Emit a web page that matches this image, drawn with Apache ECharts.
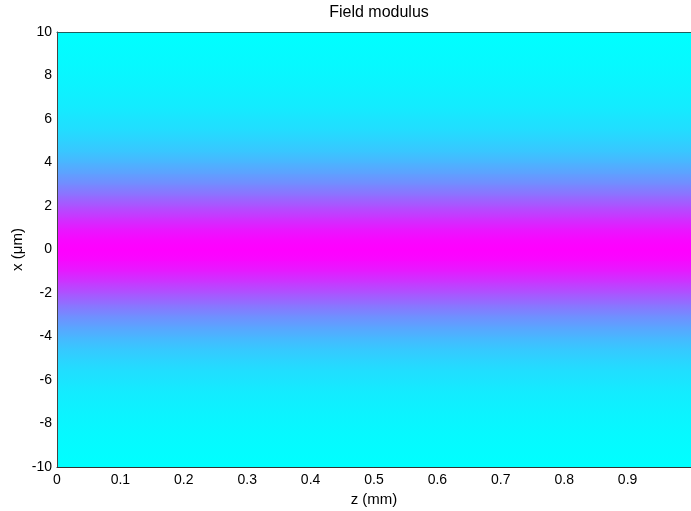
<!DOCTYPE html>
<html>
<head>
<meta charset="utf-8">
<script src="https://cdn.jsdelivr.net/npm/echarts@6/dist/echarts.min.js"></script>
<style>
    html, body { margin: 0; padding: 0; background: #fff; }
    #chart { width: 691px; height: 511px; }
</style>
</head>
<body>
<div id="chart"></div>
<script>
// transverse position x (um), sampled every 0.5 um
const xPos = [-10, -9.5, -9, -8.5, -8, -7.5, -7, -6.5, -6, -5.5, -5, -4.5, -4, -3.5, -3, -2.5, -2, -1.5, -1, -0.5,
    0, 0.5, 1, 1.5, 2, 2.5, 3, 3.5, 4, 4.5, 5, 5.5, 6, 6.5, 7, 7.5, 8, 8.5, 9, 9.5, 10];
// normalised field modulus (same for every z)
const fieldMod = [0.000, 0.007, 0.015, 0.025, 0.035, 0.048, 0.062, 0.080, 0.105, 0.135, 0.175, 0.225, 0.290, 0.370,
    0.455, 0.560, 0.675, 0.790, 0.895, 0.970, 1.000, 0.970, 0.895, 0.790, 0.675, 0.560, 0.455, 0.370, 0.290, 0.225,
    0.175, 0.135, 0.105, 0.080, 0.062, 0.048, 0.035, 0.025, 0.015, 0.007, 0.000];
// propagation distance z (mm)
const zRange = [0, 1];

// 'cool' colormap: cyan -> magenta
function cool(t) {
    const r = Math.round(255 * t);
    const g = Math.round(255 * (1 - t));
    return 'rgb(' + r + ',' + g + ',255)';
}

let bands = [];
for (let i = 0; i < xPos.length - 1; i++) {
    bands.push([xPos[i], xPos[i + 1], fieldMod[i], fieldMod[i + 1]]);
}

let chart = echarts.init(document.getElementById('chart'));
let font = 'Liberation Sans, Arial, sans-serif';
let option = {
    animation: false,
    title: {
        text: 'Field modulus',
        left: 374,
        textAlign: 'center',
        top: 0,
        textStyle: { fontFamily: font, fontSize: 16, fontWeight: 'normal', color: '#000' }
    },
    grid: { left: 57, right: 0, top: 32, bottom: 44, outerBoundsMode: 'none', containLabel: false },
    xAxis: [
        {
            type: 'value',
            min: zRange[0],
            max: zRange[1],
            interval: 0.1,
            z: 10,
            name: 'z (mm)',
            nameLocation: 'middle',
            nameGap: 21,
            nameTextStyle: { fontFamily: font, fontSize: 15, color: '#000' },
            axisLine: { onZero: false, lineStyle: { color: '#333', width: 1 } },
            axisTick: { show: false },
            splitLine: { show: false },
            axisLabel: { fontFamily: font, fontSize: 14, color: '#000', margin: 6, showMaxLabel: false }
        },
        {
            type: 'value',
            position: 'top',
            min: zRange[0],
            max: zRange[1],
            z: 10,
            axisLine: { onZero: false, lineStyle: { color: '#1f5f5f', width: 1 } },
            axisTick: { show: false },
            splitLine: { show: false },
            axisLabel: { show: false }
        }
    ],
    yAxis: {
        type: 'value',
        min: -10,
        max: 10,
        interval: 2,
        z: 10,
        name: 'x (\u03bcm)',
        nameLocation: 'middle',
        nameGap: 32,
        nameMoveOverlap: false,
        nameRotate: 90,
        nameTextStyle: { fontFamily: font, fontSize: 15, color: '#000' },
        axisLine: { show: true, onZero: false, lineStyle: { color: '#444', width: 1 } },
        axisTick: { show: false },
        splitLine: { show: false },
        axisLabel: { fontFamily: font, fontSize: 14, color: '#000', margin: 5 }
    },
    series: [
        {
            type: 'custom',
            clip: true,
            data: bands,
            encode: { x: -1, y: [0, 1] },
            renderItem: function (params, api) {
                let lo = api.value(0), hi = api.value(1);
                let p0 = api.coord([zRange[0], hi]);
                let p1 = api.coord([zRange[1], lo]);
                return {
                    type: 'rect',
                    shape: { x: p0[0], y: p0[1] - 0.5, width: p1[0] - p0[0], height: p1[1] - p0[1] + 1 },
                    style: {
                        fill: new echarts.graphic.LinearGradient(0, 0, 0, 1, [
                            { offset: 0, color: cool(api.value(3)) },
                            { offset: 1, color: cool(api.value(2)) }
                        ])
                    }
                };
            }
        }
    ]
};
chart.setOption(option);
</script>
</body>
</html>
